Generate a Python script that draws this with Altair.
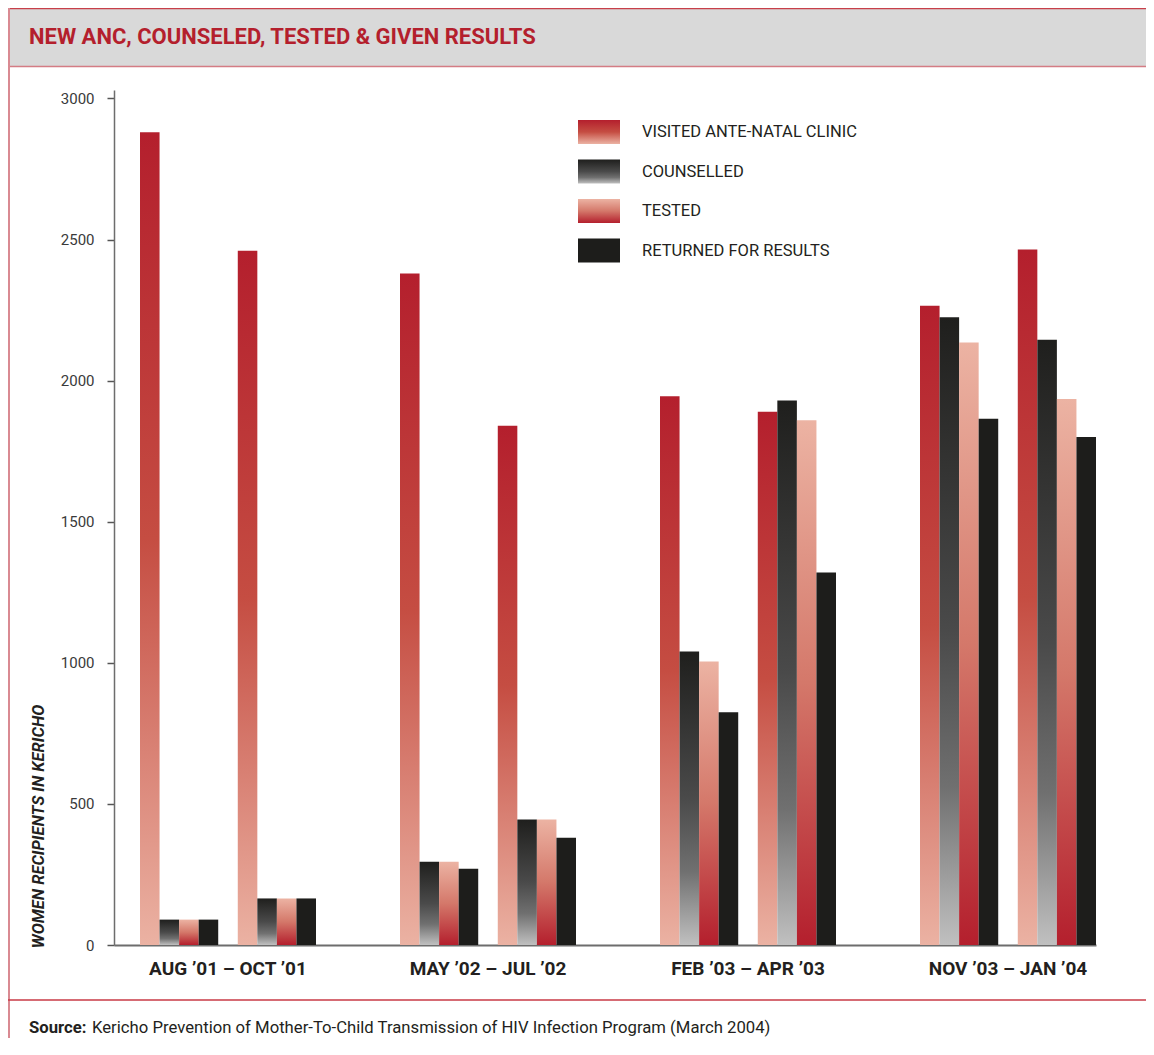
import altair as alt
import pandas as pd

groups = ["AUG ’01 – OCT ’01", "MAY ’02 – JUL ’02", "FEB ’03 – APR ’03", "NOV ’03 – JAN ’04"]
series = ["VISITED ANTE-NATAL CLINIC", "COUNSELLED", "TESTED", "RETURNED FOR RESULTS"]
# two reporting periods (pairs) per group label
visited = [2880, 2460, 2380, 1840, 1945, 1890, 2265, 2465]
counselled = [90, 165, 295, 445, 1040, 1930, 2225, 2145]
tested = [90, 165, 295, 445, 1005, 1860, 2135, 1935]
returned = [90, 165, 270, 380, 825, 1320, 1865, 1800]
y_ticks = [0, 500, 1000, 1500, 2000, 2500, 3000]

title_text = "NEW ANC, COUNSELED, TESTED & GIVEN RESULTS"
y_title = "WOMEN RECIPIENTS IN KERICHO"
source_bold = "Source:"
source_rest = "Kericho Prevention of Mother-To-Child Transmission of HIV Infection Program  (March 2004)"

values_by_series = [visited, counselled, tested, returned]
rows = []
for i in range(8):
    for j, s in enumerate(series):
        rows.append({"group": groups[i // 2], "slot": (i % 2) * 5 + j,
                     "series": s, "value": values_by_series[j][i]})
df = pd.DataFrame(rows)
one = pd.DataFrame({"k": [0]})

FONT = "Roboto, Liberation Sans, sans-serif"
RED = "#b41f2d"
PINK = "#ebb2a3"
DARK = "#1d1d1b"
TXT = "#231f20"


def grad(stops):
    return alt.Gradient(gradient="linear", x1=0, y1=0, x2=0, y2=1,
                        stops=[alt.GradientStop(offset=o, color=c) for o, c in stops])


fills = [
    grad([(0, RED), (0.5, "#c54d42"), (1, PINK)]),
    grad([(0, "#1f1f1d"), (0.5, "#4a4a4a"), (0.75, "#707070"), (1, "#c0c0c0")]),
    grad([(0, "#ecb3a3"), (0.5, "#d4786a"), (1, RED)]),
    DARK,
]

W, H = 982, 855

base = alt.Chart(df).encode(
    x=alt.X("group:N", sort=groups,
            scale=alt.Scale(domain=groups, paddingInner=84 / 260, paddingOuter=0.05, align=1),
            axis=alt.Axis(title=None, labelFont=FONT, labelFontSize=19, labelFontWeight="bold",
                          labelColor=TXT, labelPadding=14, ticks=False, labelAngle=0,
                          labelLimit=0, domainColor="#6d6d6d", domainWidth=2)),
    xOffset=alt.XOffset("slot:O", scale=alt.Scale(domain=list(range(9)), paddingInner=0, paddingOuter=0)),
    y=alt.Y("value:Q", scale=alt.Scale(domain=[0, 3030], nice=False),
            axis=alt.Axis(values=y_ticks, format="d", grid=False, title=y_title, titleFont=FONT,
                          titleFontSize=16.5, titleFontWeight="bold", titleFontStyle="italic",
                          titleColor=TXT, titleAngle=270, titleX=-76, titleY=736,
                          titleAlign="center", titleBaseline="middle",
                          labelFont=FONT, labelFontSize=15, labelColor="#3a3a3a",
                          labelPadding=13, tickSize=7, tickColor="#555555", tickWidth=1.5,
                          domainColor="#6d6d6d", domainWidth=1.5)),
)

layers = []

# frame / banner decorations
deco = alt.Chart(one)
layers.append(deco.mark_rect(color="#d9d9d9").encode(
    x=alt.value(-106), x2=alt.value(1032), y=alt.value(-82), y2=alt.value(-24)))
layers.append(deco.mark_rule(color="#c8404a", strokeWidth=1.5).encode(
    x=alt.value(-106), x2=alt.value(1032), y=alt.value(-81.5)))
layers.append(deco.mark_rule(color="#d47c84", strokeWidth=1.5).encode(
    x=alt.value(-106), x2=alt.value(1032), y=alt.value(-23.5)))
layers.append(deco.mark_rule(color="#d98a92", strokeWidth=2).encode(
    x=alt.value(-105), y=alt.value(-82), y2=alt.value(948)))
layers.append(deco.mark_rule(color="#c83a46", strokeWidth=1.5).encode(
    x=alt.value(-106), x2=alt.value(1032), y=alt.value(910)))
layers.append(deco.mark_text(font=FONT, fontSize=22, fontWeight="bold", color=RED,
                             align="left", baseline="middle").encode(
    x=alt.value(-85), y=alt.value(-53), text=alt.value(title_text)))
layers.append(deco.mark_text(font=FONT, fontSize=16.7, fontWeight="bold", color=TXT,
                             align="left", baseline="middle").encode(
    x=alt.value(-85), y=alt.value(938), text=alt.value(source_bold)))
layers.append(deco.mark_text(font=FONT, fontSize=16.7, color=TXT,
                             align="left", baseline="middle").encode(
    x=alt.value(-22), y=alt.value(938), text=alt.value(source_rest)))

# bars
for s, f in zip(series, fills):
    layers.append(base.transform_filter(alt.datum.series == s).mark_bar(fill=f, strokeWidth=0))

# legend
for j, (s, f) in enumerate(zip(series, fills)):
    top = 30 + j * 39.5
    layers.append(deco.mark_rect(fill=f, strokeWidth=0).encode(
        x=alt.value(464), x2=alt.value(506), y=alt.value(top), y2=alt.value(top + 24)))
    layers.append(deco.mark_text(font=FONT, fontSize=16.5, color=TXT, align="left",
                                 baseline="middle").encode(
        x=alt.value(528), y=alt.value(top + 12), text=alt.value(s)))

chart = alt.layer(*layers).properties(
    width=W, height=H,
    autosize=alt.AutoSizeParams(type="none"),
    padding={"left": 106, "top": 82, "right": 50, "bottom": 93},
    background="white",
).configure_view(stroke=None)

chart.save("out.html", embed_options={"renderer": "svg", "actions": False})
